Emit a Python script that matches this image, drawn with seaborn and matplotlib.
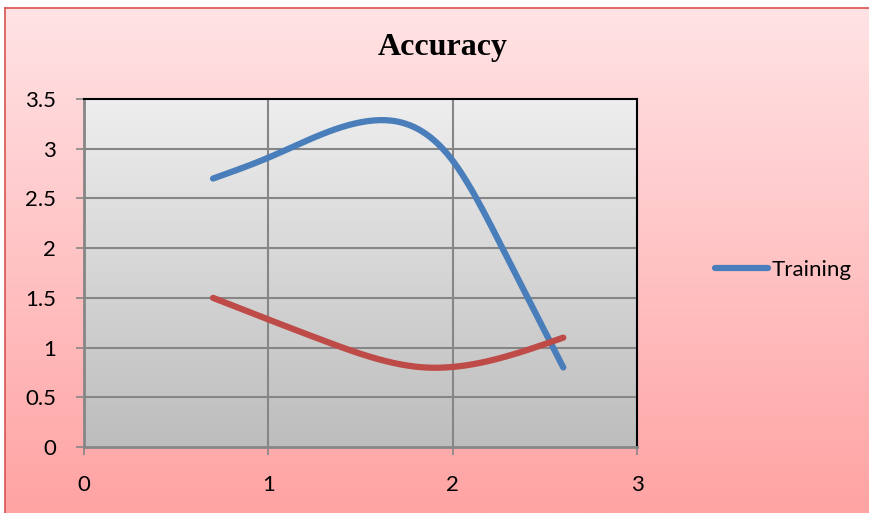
import numpy as np
import pandas as pd
import seaborn as sns
import matplotlib.pyplot as plt
from matplotlib.colors import LinearSegmentedColormap

# values (points the smoothed Excel lines pass through)
train_x = [0.7, 1.0, 1.55, 2.0, 2.27, 2.6]
train_y = [2.7, 2.91, 3.28, 2.88, 2.0, 0.8]
test_x = [0.7, 1.3, 1.85, 2.6]
test_y = [1.5, 1.07, 0.80, 1.10]

xticks = [0, 1, 2, 3]
yticks = [0, 0.5, 1, 1.5, 2, 2.5, 3, 3.5]
ytick_labels = ['0', '0.5', '1', '1.5', '2', '2.5', '3', '3.5']


def smooth(xs, ys, n=300):
    # smoothed line like Excel's: natural cubic spline through the points
    x = np.asarray(xs, float)
    y = np.asarray(ys, float)
    k = len(x)
    h = np.diff(x)
    A = np.zeros((k, k))
    b = np.zeros(k)
    A[0, 0] = A[-1, -1] = 1
    for i in range(1, k - 1):
        A[i, i - 1] = h[i - 1]
        A[i, i] = 2 * (h[i - 1] + h[i])
        A[i, i + 1] = h[i]
        b[i] = 6 * ((y[i + 1] - y[i]) / h[i] - (y[i] - y[i - 1]) / h[i - 1])
    m = np.linalg.solve(A, b)
    xx = np.linspace(x[0], x[-1], n)
    j = np.clip(np.searchsorted(x, xx) - 1, 0, k - 2)
    t0 = x[j + 1] - xx
    t1 = xx - x[j]
    hj = h[j]
    yy = (m[j] * t0 ** 3 + m[j + 1] * t1 ** 3) / (6 * hj) \
        + (y[j] / hj - m[j] * hj / 6) * t0 + (y[j + 1] / hj - m[j + 1] * hj / 6) * t1
    return xx, yy


sx, sy = smooth(train_x, train_y)
df_train = pd.DataFrame({'x': sx, 'y': sy, 'series': 'Training'})
sx, sy = smooth(test_x, test_y)
df_test = pd.DataFrame({'x': sx, 'y': sy, 'series': 'Testing'})

sns.set_style('white')
plt.rcParams['font.family'] = ['Lato', 'DejaVu Sans']
plt.rcParams['text.color'] = 'black'

fig = plt.figure(figsize=(8.69, 5.13), dpi=100)
fig.patch.set_facecolor('white')

# pink chart-area background with gradient
bg = fig.add_axes([5 / 869, 0, 1 - 5 / 869, 1 - 8 / 513])
pink = LinearSegmentedColormap.from_list('pink', ['#ffa3a3', '#ffe3e5'])
bg.imshow(np.linspace(0, 1, 256)[:, None], aspect='auto', cmap=pink, origin='lower',
          extent=[0, 1, 0, 1])
bg.set_xlim(0, 1)
bg.set_ylim(0, 1)
bg.set_xticks([])
bg.set_yticks([])
for side, sp in bg.spines.items():
    sp.set_color('#d9534f')
    sp.set_linewidth(1.2)
    sp.set_visible(side in ('left', 'top'))

ax = fig.add_axes([84 / 869, 1 - 447 / 513, (637 - 84) / 869, (447 - 99) / 513])
grey = LinearSegmentedColormap.from_list('grey', ['#bdbdbd', '#eeeeee'])
ax.imshow(np.linspace(0, 1, 256)[:, None], aspect='auto', cmap=grey, origin='lower',
          extent=[0, 3, 0, 3.5], zorder=0)

for v in xticks[1:-1]:
    ax.axvline(v, color='#868686', lw=1.5, zorder=1)
for v in yticks[1:-1]:
    ax.axhline(v, color='#868686', lw=1.5, zorder=1)

sns.lineplot(data=df_train, x='x', y='y', sort=False, estimator=None, ax=ax,
             color='#4a7ebb', lw=4.5, solid_capstyle='round', label='Training', zorder=3)
sns.lineplot(data=df_test, x='x', y='y', sort=False, estimator=None, ax=ax,
             color='#be4b48', lw=4.5, solid_capstyle='round', label='_nolegend_', zorder=3)

ax.set_xlim(0, 3)
ax.set_ylim(0, 3.5)
ax.set_xticks(xticks)
ax.set_yticks(yticks)
ax.set_yticklabels(ytick_labels)
ax.set_xlabel('')
ax.set_ylabel('')
ax.tick_params(axis='both', direction='out', length=6, width=1.2, color='#868686',
               labelsize=16, labelcolor='black', pad=14, left=True, bottom=True)
ax.spines['left'].set_color('#868686')
ax.spines['bottom'].set_color('#868686')
ax.spines['left'].set_linewidth(2)
ax.spines['bottom'].set_linewidth(2)
ax.spines['top'].set_color('black')
ax.spines['right'].set_color('black')
ax.spines['top'].set_linewidth(1.5)
ax.spines['right'].set_linewidth(1.5)

fig.text(443 / 869, 1 - 48 / 513, 'Accuracy', ha='center', va='center', color='black',
         fontsize=23, fontweight='bold', family='Liberation Serif')

leg = ax.legend(loc='center left', bbox_to_anchor=(706 / 869, 1 - 270 / 513),
                bbox_transform=fig.transFigure, frameon=False, fontsize=16,
                handlelength=2.4, handletextpad=0.15, borderaxespad=0)
leg.get_lines()[0].set_linewidth(4.5)
for t in leg.get_texts():
    t.set_color('black')

fig.savefig('out.png', dpi=100)
plt.close()
